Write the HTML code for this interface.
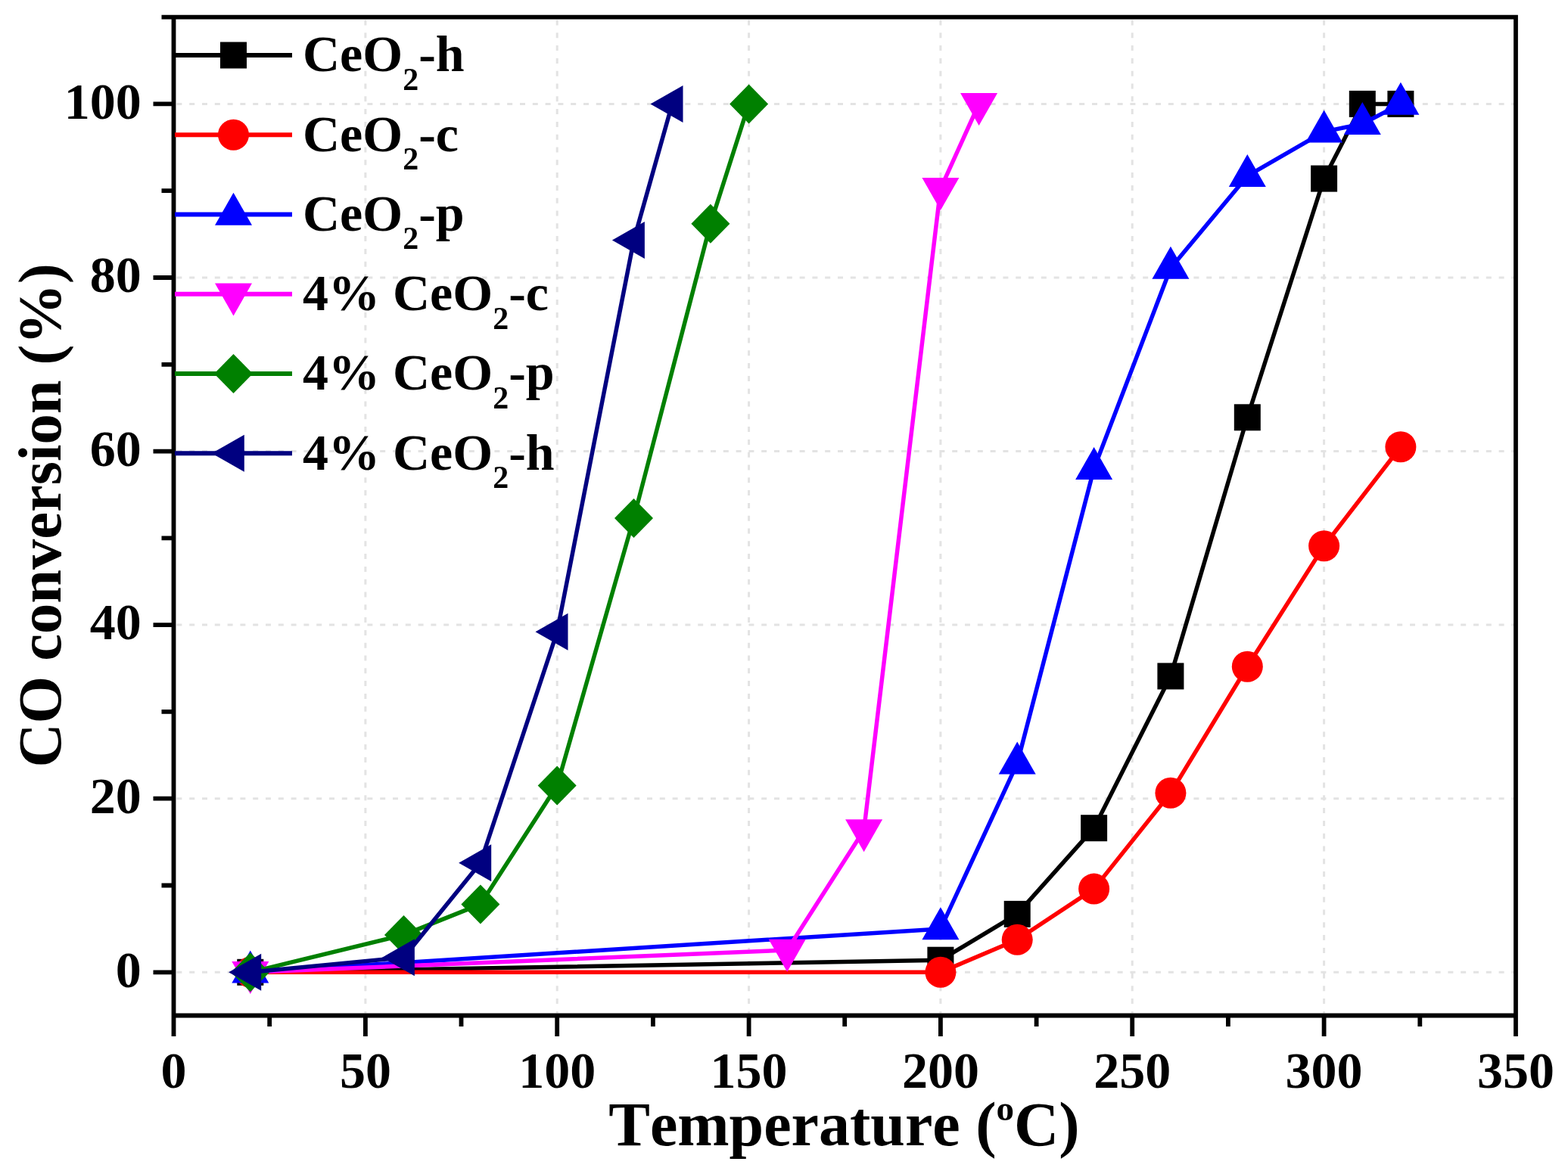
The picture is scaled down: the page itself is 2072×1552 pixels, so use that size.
<!DOCTYPE html>
<html><head><meta charset="utf-8"><title>CO conversion vs Temperature</title>
<style>html,body{margin:0;padding:0;background:#fff;} svg{display:block;} text{font-kerning:none;font-feature-settings:"kern" 0,"liga" 0;}</style>
</head><body>
<svg width="2072" height="1552" viewBox="0 0 2072 1552">
<rect width="2072" height="1552" fill="#fff"/>
<path d="M482.9 25.5V1339.6 M736.2 25.5V1339.6 M989.6 25.5V1339.6 M1242.9 25.5V1339.6 M1496.2 25.5V1339.6 M1749.6 25.5V1339.6 M232.4 1285.3H2000.1 M232.4 1055.7H2000.1 M232.4 826.1H2000.1 M232.4 596.6H2000.1 M232.4 367.0H2000.1 M232.4 137.4H2000.1" stroke="#e3e3e3" stroke-width="3" stroke-dasharray="7 9.8" stroke-dashoffset="-1" fill="none"/>
<path d="M330.8 1285.3 L1242.9 1269.2 L1344.2 1208.4 L1445.6 1094.7 L1546.9 893.9 L1648.3 551.8 L1749.6 236.1 L1800.3 137.4 L1850.9 137.4" stroke="#000000" stroke-width="5.5" fill="none" stroke-linejoin="round"/>
<rect x="313.3" y="1267.8" width="35.0" height="35.0" fill="#000000"/>
<rect x="1225.4" y="1251.7" width="35.0" height="35.0" fill="#000000"/>
<rect x="1326.7" y="1190.9" width="35.0" height="35.0" fill="#000000"/>
<rect x="1428.1" y="1077.2" width="35.0" height="35.0" fill="#000000"/>
<rect x="1529.4" y="876.4" width="35.0" height="35.0" fill="#000000"/>
<rect x="1630.8" y="534.3" width="35.0" height="35.0" fill="#000000"/>
<rect x="1732.1" y="218.6" width="35.0" height="35.0" fill="#000000"/>
<rect x="1782.8" y="119.9" width="35.0" height="35.0" fill="#000000"/>
<rect x="1833.4" y="119.9" width="35.0" height="35.0" fill="#000000"/>
<path d="M330.8 1285.3 L1242.9 1285.3 L1344.2 1242.3 L1445.6 1175.1 L1546.9 1048.3 L1648.3 881.2 L1749.6 721.7 L1850.9 590.8" stroke="#FF0000" stroke-width="5.5" fill="none" stroke-linejoin="round"/>
<circle cx="330.8" cy="1285.3" r="20.5" fill="#FF0000"/>
<circle cx="1242.9" cy="1285.3" r="20.5" fill="#FF0000"/>
<circle cx="1344.2" cy="1242.3" r="20.5" fill="#FF0000"/>
<circle cx="1445.6" cy="1175.1" r="20.5" fill="#FF0000"/>
<circle cx="1546.9" cy="1048.3" r="20.5" fill="#FF0000"/>
<circle cx="1648.3" cy="881.2" r="20.5" fill="#FF0000"/>
<circle cx="1749.6" cy="721.7" r="20.5" fill="#FF0000"/>
<circle cx="1850.9" cy="590.8" r="20.5" fill="#FF0000"/>
<path d="M330.8 1285.3 L1242.9 1227.9 L1344.2 1009.2 L1445.6 619.5 L1546.9 354.4 L1648.3 232.7 L1749.6 174.1 L1800.3 163.8 L1850.9 137.4" stroke="#0000FF" stroke-width="5.5" fill="none" stroke-linejoin="round"/>
<polygon points="330.8,1256.6 355.3,1299.6 306.3,1299.6" fill="#0000FF"/>
<polygon points="1242.9,1199.2 1267.4,1242.2 1218.4,1242.2" fill="#0000FF"/>
<polygon points="1344.2,980.6 1368.7,1023.6 1319.7,1023.6" fill="#0000FF"/>
<polygon points="1445.6,590.9 1470.1,633.9 1421.1,633.9" fill="#0000FF"/>
<polygon points="1546.9,325.7 1571.4,368.7 1522.4,368.7" fill="#0000FF"/>
<polygon points="1648.3,204.0 1672.8,247.0 1623.8,247.0" fill="#0000FF"/>
<polygon points="1749.6,145.5 1774.1,188.5 1725.1,188.5" fill="#0000FF"/>
<polygon points="1800.3,135.1 1824.8,178.1 1775.8,178.1" fill="#0000FF"/>
<polygon points="1850.9,108.7 1875.4,151.7 1826.4,151.7" fill="#0000FF"/>
<path d="M330.8 1285.3 L1040.2 1256.1 L1141.6 1097.5 L1242.9 249.3 L1293.6 137.4" stroke="#FF00FF" stroke-width="5.5" fill="none" stroke-linejoin="round"/>
<polygon points="330.8,1314.0 355.3,1271.0 306.3,1271.0" fill="#FF00FF"/>
<polygon points="1040.2,1284.8 1064.7,1241.8 1015.7,1241.8" fill="#FF00FF"/>
<polygon points="1141.6,1126.2 1166.1,1083.2 1117.1,1083.2" fill="#FF00FF"/>
<polygon points="1242.9,278.0 1267.4,235.0 1218.4,235.0" fill="#FF00FF"/>
<polygon points="1293.6,166.1 1318.1,123.1 1269.1,123.1" fill="#FF00FF"/>
<path d="M330.8 1285.3 L533.5 1235.9 L634.9 1195.4 L736.2 1038.5 L837.5 684.9 L938.9 295.8 L989.6 137.4" stroke="#008000" stroke-width="5.5" fill="none" stroke-linejoin="round"/>
<polygon points="330.8,1259.3 356.3,1285.3 330.8,1311.3 305.3,1285.3" fill="#008000"/>
<polygon points="533.5,1209.9 559.0,1235.9 533.5,1261.9 508.0,1235.9" fill="#008000"/>
<polygon points="634.9,1169.4 660.4,1195.4 634.9,1221.4 609.4,1195.4" fill="#008000"/>
<polygon points="736.2,1012.5 761.7,1038.5 736.2,1064.5 710.7,1038.5" fill="#008000"/>
<polygon points="837.5,658.9 863.0,684.9 837.5,710.9 812.0,684.9" fill="#008000"/>
<polygon points="938.9,269.8 964.4,295.8 938.9,321.8 913.4,295.8" fill="#008000"/>
<polygon points="989.6,111.4 1015.1,137.4 989.6,163.4 964.1,137.4" fill="#008000"/>
<path d="M330.8 1285.3 L533.5 1265.8 L634.9 1140.7 L736.2 835.3 L837.5 317.6 L888.2 137.4" stroke="#000080" stroke-width="5.5" fill="none" stroke-linejoin="round"/>
<polygon points="302.2,1285.3 345.2,1260.8 345.2,1309.8" fill="#000080"/>
<polygon points="504.9,1265.8 547.9,1241.3 547.9,1290.3" fill="#000080"/>
<polygon points="606.2,1140.7 649.2,1116.2 649.2,1165.2" fill="#000080"/>
<polygon points="707.5,835.3 750.5,810.8 750.5,859.8" fill="#000080"/>
<polygon points="808.9,317.6 851.9,293.1 851.9,342.1" fill="#000080"/>
<polygon points="859.5,137.4 902.5,112.9 902.5,161.9" fill="#000080"/>
<path d="M229.5 22.6H2003.0V1342.5H229.5Z M229.5 1285.3H202.5 M229.5 1055.7H202.5 M229.5 826.1H202.5 M229.5 596.6H202.5 M229.5 367.0H202.5 M229.5 137.4H202.5 M229.5 1170.5H213.5 M229.5 940.9H213.5 M229.5 711.4H213.5 M229.5 481.8H213.5 M229.5 252.2H213.5 M229.5 22.6H213.5 M229.5 1342.5V1370 M482.9 1342.5V1370 M736.2 1342.5V1370 M989.6 1342.5V1370 M1242.9 1342.5V1370 M1496.2 1342.5V1370 M1749.6 1342.5V1370 M2003.0 1342.5V1370 M356.2 1342.5V1357 M609.5 1342.5V1357 M862.9 1342.5V1357 M1116.2 1342.5V1357 M1369.6 1342.5V1357 M1622.9 1342.5V1357 M1876.3 1342.5V1357" stroke="#000" stroke-width="5.8" fill="none" stroke-linejoin="miter" stroke-linecap="butt"/>
<g font-family="Liberation Serif, serif" font-weight="bold" font-size="68" fill="#000"><text x="186.8" y="1304.5" text-anchor="end">0</text><text x="186.8" y="1074.9" text-anchor="end">20</text><text x="186.8" y="845.3" text-anchor="end">40</text><text x="186.8" y="615.8" text-anchor="end">60</text><text x="186.8" y="386.2" text-anchor="end">80</text><text x="186.8" y="156.6" text-anchor="end">100</text><text x="229.5" y="1438.3" text-anchor="middle">0</text><text x="482.9" y="1438.3" text-anchor="middle">50</text><text x="736.2" y="1438.3" text-anchor="middle">100</text><text x="989.6" y="1438.3" text-anchor="middle">150</text><text x="1242.9" y="1438.3" text-anchor="middle">200</text><text x="1496.2" y="1438.3" text-anchor="middle">250</text><text x="1749.6" y="1438.3" text-anchor="middle">300</text><text x="2003.0" y="1438.3" text-anchor="middle">350</text></g>
<text x="804.2" y="1514.4" font-family="Liberation Serif, serif" font-weight="bold" font-size="82">Temperature (<tspan font-size="47" dy="-33">o</tspan><tspan dy="33">C)</tspan></text>
<text transform="translate(79.5 1014.6) rotate(-90)" font-family="Liberation Serif, serif" font-weight="bold" font-size="80.5">CO conversion (%)</text>
<path d="M231 73.0H386" stroke="#000000" stroke-width="6" fill="none"/><rect x="291.0" y="55.5" width="35.0" height="35.0" fill="#000000"/><text x="400" y="94.4" font-family="Liberation Serif, serif" font-weight="bold" font-size="68">CeO<tspan font-size="42" dy="24.5">2</tspan><tspan dy="-24.5">-h</tspan></text><path d="M231 178.2H386" stroke="#FF0000" stroke-width="6" fill="none"/><circle cx="308.5" cy="178.2" r="20.5" fill="#FF0000"/><text x="400" y="199.6" font-family="Liberation Serif, serif" font-weight="bold" font-size="68">CeO<tspan font-size="42" dy="24.5">2</tspan><tspan dy="-24.5">-c</tspan></text><path d="M231 283.5H386" stroke="#0000FF" stroke-width="6" fill="none"/><polygon points="308.5,254.8 333.0,297.8 284.0,297.8" fill="#0000FF"/><text x="400" y="304.9" font-family="Liberation Serif, serif" font-weight="bold" font-size="68">CeO<tspan font-size="42" dy="24.5">2</tspan><tspan dy="-24.5">-p</tspan></text><path d="M231 388.7H386" stroke="#FF00FF" stroke-width="6" fill="none"/><polygon points="308.5,417.4 333.0,374.4 284.0,374.4" fill="#FF00FF"/><text x="400" y="410.1" font-family="Liberation Serif, serif" font-weight="bold" font-size="68">4% CeO<tspan font-size="42" dy="24.5">2</tspan><tspan dy="-24.5">-c</tspan></text><path d="M231 494.0H386" stroke="#008000" stroke-width="6" fill="none"/><polygon points="308.5,468.0 334.0,494.0 308.5,520.0 283.0,494.0" fill="#008000"/><text x="400" y="515.4" font-family="Liberation Serif, serif" font-weight="bold" font-size="68">4% CeO<tspan font-size="42" dy="24.5">2</tspan><tspan dy="-24.5">-p</tspan></text><path d="M231 599.2H386" stroke="#000080" stroke-width="6" fill="none"/><polygon points="279.8,599.2 322.8,574.7 322.8,623.7" fill="#000080"/><text x="400" y="620.6" font-family="Liberation Serif, serif" font-weight="bold" font-size="68">4% CeO<tspan font-size="42" dy="24.5">2</tspan><tspan dy="-24.5">-h</tspan></text>
</svg>
</body></html>
